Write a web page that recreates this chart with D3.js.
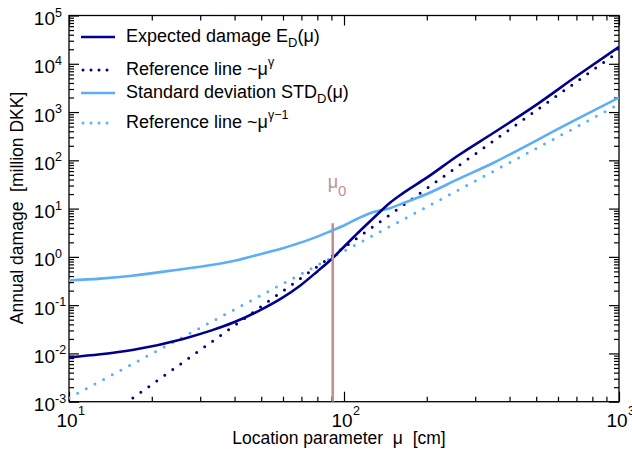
<!DOCTYPE html>
<html>
<head>
<meta charset="utf-8">
<script src="https://cdnjs.cloudflare.com/ajax/libs/d3/7.8.5/d3.min.js"></script>
<style>
body { margin: 0; background: #fff; }
text { font-family: "Liberation Sans", Arial, Helvetica, sans-serif; fill: #000; }
.tick line { stroke: #000; stroke-width: 1.2px; }
</style>
</head>
<body>
<div id="chart"></div>
<script>
// values
var mu = [10, 13, 17, 26, 33, 40, 50, 60, 69, 80, 90, 100, 112, 125, 135, 147, 164, 200, 260, 350, 500, 700, 1000];
var expectedDamage = [0.0083, 0.0096, 0.0118, 0.020, 0.030, 0.0447, 0.081, 0.145, 0.25, 0.50, 0.89,
    1.62, 3.09, 5.6, 8.5, 13.2, 20.9, 43.7, 126, 372, 1410, 5500, 22400];
var stdDamage = [0.324, 0.355, 0.407, 0.562, 0.676, 0.832, 1.15, 1.51, 1.95, 2.63, 3.47,
    4.47, 6.17, 8.13, 9.12, 10.2, 12.9, 20.0, 40.7, 89.1, 257, 708, 1995];

var refMu = [10, 1000];
var refGamma = [1.36e-4, 1.8e4];
var refGammaMinus1 = [1.2e-3, 1.45e3];

var mu0 = 91;
var mu0Top = 5;

var xMajor = [10, 100, 1000];
var xExponents = ["1", "2", "3"];
var yMajor = [1e-3, 1e-2, 1e-1, 1e0, 1e1, 1e2, 1e3, 1e4, 1e5];
var yExponents = ["-3", "-2", "-1", "0", "1", "2", "3", "4", "5"];

var darkBlue = "#00008c";
var lightBlue = "#5caef6";
var mu0Color = "#bf9090";

var svgWidth = 632;
var svgHeight = 453;

var margin = {
    top: 15.5,
    right: 13,
    bottom: 51.3,
    left: 69
};

var width = svgWidth - margin.left - margin.right;
var height = svgHeight - margin.top - margin.bottom;

var svg = d3.select("#chart").append("svg")
    .attr("width", svgWidth)
    .attr("height", svgHeight);

var chartGroup = svg.append("g")
    .attr("transform", `translate(${margin.left}, ${margin.top})`);

var x = d3.scaleLog().domain([10, 1000]).range([0, width]);
var y = d3.scaleLog().domain([1e-3, 1e5]).range([height, 0]);

svg.append("defs").append("clipPath")
    .attr("id", "plotclip")
    .append("rect")
    .attr("width", width)
    .attr("height", height);

// minor ticks from the scale's own ticks, dropping the decades
var xMinor = x.ticks().filter(d => xMajor.indexOf(d) < 0);
var yMinor = y.ticks().filter(d => Math.abs(Math.log10(d) - Math.round(Math.log10(d))) > 1e-6);

function draw_ticks(axisFn, scale, values, size, transform) {
    chartGroup.append("g")
        .attr("transform", transform)
        .call(axisFn(scale).tickValues(values).tickSize(-size).tickFormat(""))
        .call(g => g.select(".domain").remove());
}

draw_ticks(d3.axisBottom, x, xMajor, 10, `translate(0, ${height})`);
draw_ticks(d3.axisBottom, x, xMinor, 5, `translate(0, ${height})`);
draw_ticks(d3.axisTop, x, xMajor, 10, "translate(0, 0)");
draw_ticks(d3.axisTop, x, xMinor, 5, "translate(0, 0)");
draw_ticks(d3.axisLeft, y, yMajor, 10, "translate(0, 0)");
draw_ticks(d3.axisLeft, y, yMinor, 5, "translate(0, 0)");
draw_ticks(d3.axisRight, y, yMajor, 10, `translate(${width}, 0)`);
draw_ticks(d3.axisRight, y, yMinor, 5, `translate(${width}, 0)`);

// frame
chartGroup.append("rect")
    .attr("width", width)
    .attr("height", height)
    .attr("fill", "none")
    .attr("stroke", "#000")
    .attr("stroke-width", 1.3);

// tick labels
yMajor.forEach(function (d, i) {
    chartGroup.append("text")
        .attr("x", -14)
        .attr("y", y(d) + 9.5)
        .attr("text-anchor", "end")
        .attr("font-size", "19px")
        .text("10");
    chartGroup.append("text")
        .attr("x", -14)
        .attr("y", y(d) + 1)
        .attr("font-size", "12.5px")
        .text(yExponents[i]);
});

xMajor.forEach(function (d, i) {
    chartGroup.append("text")
        .attr("x", x(d) - 12.5)
        .attr("y", height + 25.5)
        .attr("font-size", "19px")
        .text("10");
    chartGroup.append("text")
        .attr("x", x(d) + 9)
        .attr("y", height + 13.5)
        .attr("font-size", "12.5px")
        .text(xExponents[i]);
});

// axis titles
svg.append("text")
    .attr("x", 339)
    .attr("y", 444)
    .attr("text-anchor", "middle")
    .attr("font-size", "17.5px")
    .style("white-space", "pre")
    .text("Location parameter  \u03bc  [cm]");

svg.append("text")
    .attr("transform", "translate(23, 208) rotate(-90)")
    .attr("text-anchor", "middle")
    .attr("font-size", "17.5px")
    .style("white-space", "pre")
    .text("Annual damage  [million DKK]");

// curves
var plotGroup = chartGroup.append("g").attr("clip-path", "url(#plotclip)");

var line = d3.line()
    .x(d => x(d[0]))
    .y(d => y(d[1]))
    .curve(d3.curveMonotoneX);

var straight = d3.line()
    .x(d => x(d[0]))
    .y(d => y(d[1]));

plotGroup.append("path")
    .datum(refMu.map((m, i) => [m, refGammaMinus1[i]]))
    .attr("d", straight)
    .attr("fill", "none")
    .attr("stroke", lightBlue)
    .attr("stroke-width", 3)
    .attr("stroke-linecap", "round")
    .attr("stroke-dasharray", "0 9.8");

plotGroup.append("path")
    .datum(refMu.map((m, i) => [m, refGamma[i]]))
    .attr("d", straight)
    .attr("fill", "none")
    .attr("stroke", darkBlue)
    .attr("stroke-width", 3)
    .attr("stroke-linecap", "round")
    .attr("stroke-dasharray", "0 9.8");

plotGroup.append("path")
    .datum(mu.map((m, i) => [m, stdDamage[i]]))
    .attr("d", line)
    .attr("fill", "none")
    .attr("stroke", lightBlue)
    .attr("stroke-width", 2.6);

plotGroup.append("path")
    .datum(mu.map((m, i) => [m, expectedDamage[i]]))
    .attr("d", line)
    .attr("fill", "none")
    .attr("stroke", darkBlue)
    .attr("stroke-width", 2.6);

// mu0 marker
plotGroup.append("line")
    .attr("x1", x(mu0))
    .attr("x2", x(mu0))
    .attr("y1", y(1e-3))
    .attr("y2", y(mu0Top))
    .attr("stroke", mu0Color)
    .attr("stroke-width", 2.6);

var mu0Label = chartGroup.append("text")
    .attr("x", x(mu0) - 5)
    .attr("y", 188 - margin.top)
    .attr("font-size", "18px")
    .style("fill", mu0Color);
mu0Label.append("tspan").text("\u03bc");
mu0Label.append("tspan").attr("dy", 8).attr("font-size", "15px").text("0");

// legend
var legendRows = [
    {y: 42, color: darkBlue, dotted: false, main: "Expected damage E", sub: "D", tail: "(\u03bc)", sup: null},
    {y: 75, color: darkBlue, dotted: true, main: "Reference line ~\u03bc", sub: null, tail: "", sup: "\u03b3"},
    {y: 98, color: lightBlue, dotted: false, main: "Standard deviation STD", sub: "D", tail: "(\u03bc)", sup: null},
    {y: 128, color: lightBlue, dotted: true, main: "Reference line ~\u03bc", sub: null, tail: "", sup: "\u03b3\u22121"}
];

legendRows.forEach(function (r) {
    var ly = r.y - 5;
    svg.append("line")
        .attr("x1", r.dotted ? 83 : 81)
        .attr("x2", 115)
        .attr("y1", ly)
        .attr("y2", ly)
        .attr("stroke", r.color)
        .attr("stroke-width", r.dotted ? 3 : 2.6)
        .attr("stroke-linecap", r.dotted ? "round" : "butt")
        .attr("stroke-dasharray", r.dotted ? "0 8" : null);

    var t = svg.append("text")
        .attr("x", 126)
        .attr("y", r.y)
        .attr("font-size", "18px");
    t.append("tspan").text(r.main);
    if (r.sub) {
        t.append("tspan").attr("dy", 5).attr("font-size", "13px").text(r.sub);
        t.append("tspan").attr("dy", -5).text(r.tail);
    }
    if (r.sup) {
        t.append("tspan").attr("dy", -9).attr("font-size", "12.5px").text(r.sup);
    }
});
</script>
</body>
</html>
